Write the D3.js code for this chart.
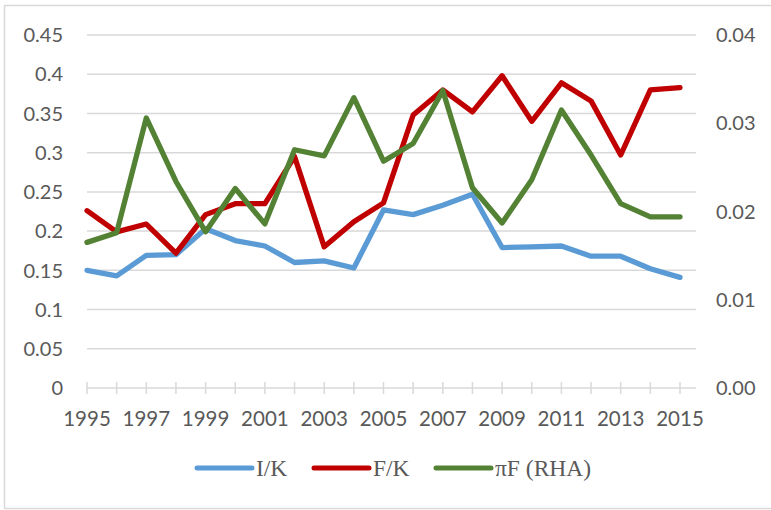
<!DOCTYPE html>
<html>
<head>
<meta charset="utf-8">
<script src="https://cdn.jsdelivr.net/npm/d3@7"></script>
<style>
  body { margin: 0; background: #fff; }
  svg { display: block; }
</style>
</head>
<body>
<div id="chart"></div>
<script>
// values
let years = d3.range(1995, 2016);
let ik = [0.150, 0.143, 0.169, 0.170, 0.203, 0.188, 0.181, 0.160, 0.162, 0.153, 0.227,
          0.221, 0.233, 0.247, 0.179, 0.180, 0.181, 0.168, 0.168, 0.152, 0.141];
let fk = [0.226, 0.199, 0.209, 0.172, 0.221, 0.235, 0.235, 0.295, 0.180, 0.212, 0.236,
          0.348, 0.380, 0.352, 0.398, 0.340, 0.389, 0.366, 0.297, 0.380, 0.383];
let piF = [0.0165, 0.0176, 0.0306, 0.0234, 0.0177, 0.0226, 0.0186, 0.0270, 0.0263, 0.0329, 0.0257,
           0.0277, 0.0337, 0.0227, 0.0187, 0.0236, 0.0315, 0.0264, 0.0209, 0.0194, 0.0194];
let leftTicks = [0, 0.05, 0.1, 0.15, 0.2, 0.25, 0.3, 0.35, 0.4, 0.45];
let rightTicks = [0, 0.01, 0.02, 0.03, 0.04];
let xLabels = d3.range(1995, 2016, 2);

let series = [
  {name: "I/K", values: ik, color: "#5b9bd5", axis: "left"},
  {name: "F/K", values: fk, color: "#c00000", axis: "left"},
  {name: "\u03c0F (RHA)", values: piF, color: "#548235", axis: "right"}
];

let width = 771, height = 510;
let svg = d3.select("#chart").append("svg")
    .attr("width", width)
    .attr("height", height);

// chart frame
svg.append("rect")
    .attr("x", 4.5).attr("y", 5.5)
    .attr("width", 790).attr("height", 503)
    .attr("fill", "none")
    .attr("stroke", "#d9d9d9")
    .attr("stroke-width", 1.5);

let x = d3.scaleLinear().domain([1995, 2015]).range([87, 680]);
let yL = d3.scaleLinear().domain([0, 0.45]).range([388, 35]);
let yR = d3.scaleLinear().domain([0, 0.04]).range([388, 35]);
let gridRight = 696;

let font = "Lato, 'Open Sans', sans-serif";

// gridlines
svg.append("g").selectAll("line")
    .data(leftTicks.filter(d => d > 0))
    .join("line")
    .attr("x1", x(1995)).attr("x2", gridRight)
    .attr("y1", d => yL(d)).attr("y2", d => yL(d))
    .attr("stroke", "#d9d9d9")
    .attr("stroke-width", 1.5);

// left axis labels
svg.append("g").selectAll("text")
    .data(leftTicks)
    .join("text")
    .attr("x", 63)
    .attr("y", d => yL(d))
    .attr("dy", "0.36em")
    .attr("text-anchor", "end")
    .attr("font-family", font)
    .attr("font-size", 20)
    .attr("fill", "#595959")
    .text(d => d === 0 ? "0" : String(+d.toFixed(2)));

// right axis labels
svg.append("g").selectAll("text")
    .data(rightTicks)
    .join("text")
    .attr("x", 716)
    .attr("y", d => yR(d))
    .attr("dy", "0.36em")
    .attr("text-anchor", "start")
    .attr("font-family", font)
    .attr("font-size", 20)
    .attr("fill", "#595959")
    .text(d => d3.format(".2f")(d));

// x axis line with crossing tick marks
let xAxis = svg.append("g");
xAxis.append("line")
    .attr("x1", x(1995)).attr("x2", gridRight)
    .attr("y1", yL(0)).attr("y2", yL(0))
    .attr("stroke", "#d9d9d9")
    .attr("stroke-width", 1.5);
xAxis.selectAll("line.tick")
    .data(years)
    .join("line")
    .attr("class", "tick")
    .attr("x1", d => x(d)).attr("x2", d => x(d))
    .attr("y1", yL(0) - 6).attr("y2", yL(0) + 6)
    .attr("stroke", "#d9d9d9")
    .attr("stroke-width", 1.5);
xAxis.selectAll("text")
    .data(xLabels)
    .join("text")
    .attr("x", d => x(d))
    .attr("y", 419)
    .attr("dy", "0.36em")
    .attr("text-anchor", "middle")
    .attr("font-family", font)
    .attr("font-size", 20.5)
    .attr("fill", "#595959")
    .text(d => d);

// lines
series.forEach(s => {
  let yScale = s.axis === "left" ? yL : yR;
  let line = d3.line()
      .x((d, i) => x(years[i]))
      .y(d => yScale(d));
  svg.append("path")
      .datum(s.values)
      .attr("fill", "none")
      .attr("stroke", s.color)
      .attr("stroke-width", 5.3)
      .attr("stroke-linejoin", "round")
      .attr("stroke-linecap", "round")
      .attr("d", line);
});

// legend
let legendX = [197, 314, 436];
let legend = svg.append("g");
series.forEach((s, i) => {
  let g = legend.append("g").attr("transform", `translate(${legendX[i]},468)`);
  g.append("line")
      .attr("x1", 0).attr("x2", 55)
      .attr("stroke", s.color)
      .attr("stroke-width", 5)
      .attr("stroke-linecap", "round");
  g.append("text")
      .attr("x", 59)
      .attr("dy", "0.35em")
      .attr("font-family", "'Liberation Serif', 'DejaVu Serif', serif")
      .attr("font-size", 23.5)
      .attr("fill", "#595959")
      .text(s.name);
});
</script>
</body>
</html>
